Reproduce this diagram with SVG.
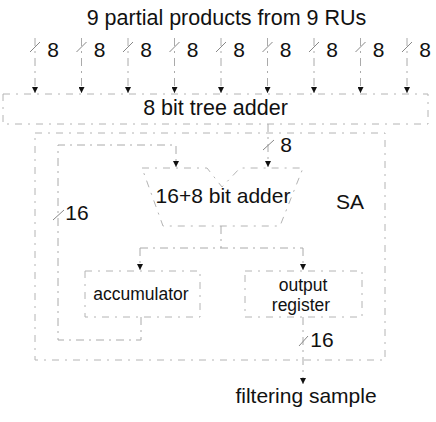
<svg xmlns="http://www.w3.org/2000/svg" width="436" height="422" viewBox="0 0 436 422">
  <style>
    .t { font-family: "Liberation Sans", Arial, sans-serif; fill: #111; }
    .big { font-size: 21.5px; }
    .mid { font-size: 21px; }
    .sm { font-size: 17.5px; }
    .edge { fill: none; stroke: #b4b4b4; stroke-width: 1; stroke-dasharray: 7 6 2 6; }
    .wire { fill: none; stroke: #aaaaaa; stroke-width: 1; stroke-dasharray: 8 5 2 5; }
    .tick { stroke: #888; stroke-width: 1; }
  </style>
  <defs>
    <marker id="arrow" markerUnits="userSpaceOnUse" markerWidth="6" markerHeight="6" refX="6" refY="3" orient="auto">
      <path d="M0,0 L6,3 L0,6 Z" fill="#111" stroke="none"/>
    </marker>
  </defs>

  <rect width="436" height="422" fill="#fff"/>

  <!-- heading -->
  <g id="title">
    <text class="t big" x="226.5" y="25" text-anchor="middle">9 partial products from 9 RUs</text>
  </g>

  <!-- systolic array boundary -->
  <g id="sa-box">
    <rect class="edge" x="35" y="133" width="350" height="227"/>
    <text class="t mid" x="350" y="209" text-anchor="middle">SA</text>
  </g>

  <g id="tree-adder">
    <rect class="edge" x="3" y="94" width="425" height="30"/>
    <text class="t big" x="215.5" y="115" text-anchor="middle">8 bit tree adder</text>
  </g>

  <g id="adder">
    <path class="edge" d="M142 168 L207 168 L222 187 L240 168 L303 168 L280 226 L163 226 Z"/>
    <text class="t mid" x="223" y="203" text-anchor="middle">16+8 bit adder</text>
  </g>

  <g id="accumulator">
    <rect class="edge" x="85" y="271" width="115" height="46"/>
    <text class="t sm" x="141" y="300" text-anchor="middle">accumulator</text>
  </g>

  <g id="output-register">
    <rect class="edge" x="245" y="271" width="117" height="46"/>
    <text class="t sm" x="303" y="291" text-anchor="middle">output</text>
    <text class="t sm" x="301" y="311" text-anchor="middle">register</text>
  </g>

  <g id="result">
    <text class="t mid" x="306" y="403" text-anchor="middle">filtering sample</text>
  </g>

  <!-- wires -->
  <g id="connectors">
    <!-- nine 8-bit inputs into the tree adder -->
    <path class="wire" d="M35 38 V93" marker-end="url(#arrow)"/>
    <path class="wire" d="M81.5 38 V93" marker-end="url(#arrow)"/>
    <path class="wire" d="M128 38 V93" marker-end="url(#arrow)"/>
    <path class="wire" d="M174.5 38 V93" marker-end="url(#arrow)"/>
    <path class="wire" d="M221 38 V93" marker-end="url(#arrow)"/>
    <path class="wire" d="M267.5 38 V93" marker-end="url(#arrow)"/>
    <path class="wire" d="M314 38 V93" marker-end="url(#arrow)"/>
    <path class="wire" d="M360.5 38 V93" marker-end="url(#arrow)"/>
    <path class="wire" d="M407 38 V93" marker-end="url(#arrow)"/>

    <!-- bus-width ticks on the inputs -->
    <path class="tick" d="M30 52 L40 42 M76.5 52 L86.5 42 M123 52 L133 42 M169.5 52 L179.5 42 M216 52 L226 42 M262.5 52 L272.5 42 M309 52 L319 42 M355.5 52 L365.5 42 M402 52 L412 42"/>
    <g class="t mid" text-anchor="middle">
      <text x="53" y="57">8</text>
      <text x="99.5" y="57">8</text>
      <text x="146" y="57">8</text>
      <text x="192.5" y="57">8</text>
      <text x="239" y="57">8</text>
      <text x="285.5" y="57">8</text>
      <text x="332" y="57">8</text>
      <text x="378.5" y="57">8</text>
      <text x="425" y="57">8</text>
    </g>

    <!-- tree adder sum into the 16+8 adder -->
    <path class="wire" d="M268 124 V167" marker-end="url(#arrow)"/>
    <path class="tick" d="M263 150 L274 140"/>
    <text class="t mid" x="286" y="152" text-anchor="middle">8</text>

    <!-- adder result fans out to accumulator and output register -->
    <path class="wire" d="M221 226 V248 M140 248 H303"/>
    <path class="wire" d="M140 248 V270" marker-end="url(#arrow)"/>
    <path class="wire" d="M303 248 V270" marker-end="url(#arrow)"/>

    <!-- accumulator feedback into the adder -->
    <path class="wire" d="M141 317 V340 H58 V145 H176 V167" marker-end="url(#arrow)"/>
    <path class="tick" d="M53 220 L64 210"/>
    <text class="t mid" x="77" y="220" text-anchor="middle">16</text>

    <!-- final 16-bit output -->
    <path class="wire" d="M303 317 V384" marker-end="url(#arrow)"/>
    <path class="tick" d="M299 346 L308 336"/>
    <text class="t mid" x="322" y="347" text-anchor="middle">16</text>
  </g>
</svg>
